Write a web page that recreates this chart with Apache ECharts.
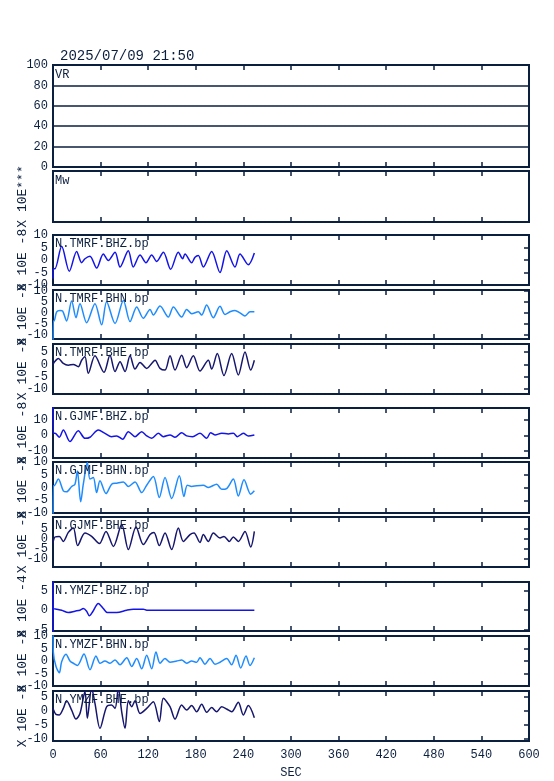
<!DOCTYPE html>
<html><head><meta charset="utf-8">
<script src="https://cdn.jsdelivr.net/npm/echarts@6/dist/echarts.min.js"></script>
<style>html,body{margin:0;padding:0;background:#fff}#c{width:554px;height:781px}</style>
</head><body><div id="c"></div>
<script>
// ---------- data ----------
const titleText = '2025/07/09 21:50';
const timeMin = 0, timeMax = 600, timeStep = 60;
const vrTicks = [0, 20, 40, 60, 80, 100];
const traceNames = ['N.TMRF.BHZ.bp','N.TMRF.BHN.bp','N.TMRF.BHE.bp','N.GJMF.BHZ.bp','N.GJMF.BHN.bp','N.GJMF.BHE.bp','N.YMZF.BHZ.bp','N.YMZF.BHN.bp','N.YMZF.BHE.bp'];
const traceExponents = ['X 10E -8','X 10E -8','X 10E -8','X 10E -8','X 10E -8','X 10E -8','X 10E -4','X 10E -8','X 10E -8'];
const yMins = [-10, -12, -12, -15, -10, -14, -5.25, -10, -10.8];
const yMaxs = [10, 10.5, 8.3, 18, 10, 11, 7.1, 10, 7];
const yLabelValues = [
  [-10,-5,0,5,10],[-10,-5,0,5,10],[-10,-5,0,5],[-10,0,10],[-10,-5,0,5,10],[-10,-5,0,5],[-5,0,5],[-10,-5,0,5,10],[-10,-5,0,5]
];

const tmrfBHZ = [[0,-7.5],[0.5,-3.5],[2.5,-3.5],[10.9,5.5],[20.6,-4.5],[29.8,3.4],[36.1,-1.1],[40.3,0.5],[46.6,1.5],[55,-3.2],[63.4,2.4],[69.7,-0.2],[78.2,3.1],[84.5,-2.8],[94.9,3.7],[101.2,-2.8],[109.7,2],[117.2,-1.1],[124.4,2],[130.7,-0.6],[139.1,3.1],[148.3,-3.7],[158,3.1],[163.4,0.5],[166.4,2.4],[174.8,-1.1],[179,1.1],[183.2,1.8],[189.5,-2.8],[200,3.4],[210.5,-5],[219,3.7],[229.4,-2.8],[235.7,2.4],[246.2,-1.9],[253.8,2.8]];
const tmrfBHN = [[0,-25],[0.3,-3.7],[1.3,-3.7],[4.6,0.5],[8.8,1.1],[12.2,0.8],[17.2,-3.7],[23.5,5.4],[29,-2.2],[34,4.2],[42.4,-4.5],[52.9,4.2],[61.3,-5.5],[67.6,5.1],[78.2,-4.9],[88.7,5.7],[97.1,-4],[105.5,2.7],[113.9,-2.5],[122.3,1.6],[126.5,-1],[134.9,3.1],[145.4,-1.9],[151.7,2.7],[162.2,-1.9],[168.5,1.6],[174.8,-0.4],[183.2,0.5],[187.4,-1],[193.7,3.6],[202.1,-2.2],[210.5,3],[216.8,-0.7],[223.1,0.5],[229.4,1.1],[235.7,0],[242,-1.4],[248.3,0.5],[253.8,0.5]];
const tmrfBHE = [[0,0],[1.3,0.8],[6.7,2.4],[13,0.4],[19.3,-0.3],[25.6,0],[31.9,-0.9],[36.1,1.7],[40.3,3.1],[44.5,-3.6],[52.9,3.5],[64.3,-3.2],[71.8,3.7],[78.2,-2.9],[84.5,1.1],[90.8,-2.9],[97.1,3.5],[103.4,-1.9],[109.7,0.8],[118.1,-1.6],[124.4,0.4],[128.6,1.7],[134.9,-1.6],[141.2,-2.3],[147.5,3.5],[153.8,-2.3],[162.2,3.7],[168.5,-1.3],[176.9,3.5],[185.3,-2.7],[195.8,1.7],[200,-1.9],[207.1,4.4],[215.5,-4.5],[225.2,4.4],[233.6,-4.3],[242,5.1],[249.2,-2.3],[253.8,1.7]];
const gjmfBHZ = [[0,25],[0.3,1.3],[2.5,1.3],[8,-1.3],[13,3.5],[21.4,-4.1],[31.9,3],[40.3,-2],[46.6,-1.3],[57.1,3.5],[65.5,1.3],[73.9,-0.9],[80.3,-0.4],[87.8,-2.6],[95,2.4],[103.4,-0.9],[111.8,2.4],[118.1,-0.4],[124.4,-2],[132.8,1.3],[139.1,-0.9],[147.5,0.2],[153.8,-1.3],[162.2,1.7],[168.5,-0.4],[176,-0.9],[185.3,1.3],[193.7,-2],[198.7,1.7],[204.2,0.2],[212.6,1.3],[221,0.9],[227.3,1.3],[232.4,-0.9],[239.9,1.3],[246.2,-0.4],[253.8,0.2]];
const gjmfBHN = [[0,-25],[0.3,0.7],[1.3,0.7],[6.7,3.3],[13,-1.3],[17.2,-1.7],[23.5,0.4],[27.7,1.3],[30.7,6.5],[34.9,-5.6],[38.2,1.3],[43.3,9.8],[46.6,3.3],[50.8,3.9],[55,-2],[59.2,2.6],[66.8,-2.4],[73.9,1.3],[80.3,1.7],[88.7,2.2],[95,0.4],[103.4,2.2],[111.8,-2],[118.1,0.9],[126.5,4.3],[134,-3.9],[141.2,3.9],[149.6,-4.3],[159.2,4.6],[165.1,-3.5],[169.3,0.9],[174.8,0.4],[181.1,0.7],[189.5,0.9],[195.8,0],[206.3,1.3],[212.6,-0.7],[218.9,-0.4],[227.3,3.3],[233.6,-3.3],[240.8,3],[249.2,-2.6],[253.8,-1.3]];
const gjmfBHE = [[0,-2],[2.5,1],[8,1.3],[13,-1.2],[19.3,3.3],[25.6,5.5],[31.1,-3.3],[40.3,3],[48.7,1.3],[58.4,-2.3],[66.8,3.8],[76.1,-3.7],[86.6,7.2],[95,-5.3],[104.6,6],[113.9,-2.8],[122.3,2.2],[127.3,3.3],[134,-3.3],[141.2,3],[149.6,-5.3],[158,5.5],[164.3,-1.2],[172.7,2.2],[177.7,3],[185.3,-1.7],[189.5,2.2],[195.8,-1.2],[202.1,3],[210.5,0.5],[215.5,1.3],[222.3,-1.2],[227.3,1],[233.6,-1.2],[242,3.8],[249.2,-4],[253.8,3.8]];
const ymzfBHZ = [[0,-10],[0,10],[0.4,0.4],[4.6,0.25],[10.9,0],[19.3,-0.6],[27.7,-0.25],[34,0],[38.2,0.4],[42.4,-0.25],[45.8,-1.4],[50,-0.4],[57.1,1.7],[63.4,0.4],[68.5,-0.6],[80.3,-0.6],[92.9,0],[101.3,0.25],[113.9,0.25],[118.1,0],[253.8,0]];
const ymzfBHN = [[0,15],[0.4,3.6],[3.8,-2.2],[8,-4.7],[10.9,-0.3],[16.4,2.7],[21.4,0],[25.6,-0.9],[30.7,-1.8],[39.1,2.8],[46.6,-3.5],[54.2,2],[59.2,-0.9],[65.5,0],[71.8,-0.9],[78.2,0.4],[84.5,-1.5],[92.9,1.3],[99.2,-2.2],[105.5,1],[111.8,-3.1],[118.1,2.3],[124.4,-3.1],[129.8,3.6],[134.9,-0.9],[141.2,1],[147.5,-0.5],[155.9,0],[162.2,0.4],[168.5,-0.9],[174.8,0],[181.1,-0.5],[185.3,1.3],[191.6,-1.3],[197.9,1],[204.2,-1.3],[210.5,-0.5],[218.9,1],[225.2,-1.5],[230.7,2.3],[236.6,-2.8],[243.3,2],[248.3,-1.8],[253.8,1.3]];
const ymzfBHE = [[0,0.8],[3.8,-1.3],[8,-1.5],[13,0.8],[17.2,3.5],[23.5,0.2],[29,-3],[34,-1],[40.3,6.8],[43.3,-2.7],[48.7,8],[52.9,2.6],[59.2,-6.3],[67.6,1.4],[73.9,2],[78.2,0.8],[82.4,8],[86.6,-0.4],[90.8,-6.3],[95,3.5],[99.2,1.4],[103.4,3.5],[109.7,-1],[118.1,0.8],[126.5,3.2],[134,-3.9],[139.1,4.4],[147.5,1.4],[153.8,-3],[162.2,2],[168.5,0.2],[174.8,1.8],[181.1,-0.4],[187.4,2.3],[193.7,-0.6],[200,1.1],[206.3,-0.4],[212.6,1.4],[218.9,0.6],[225.2,-0.4],[233.6,3],[239.9,-1.5],[246.2,1.8],[253.8,-2.5]];
const traces = [tmrfBHZ, tmrfBHN, tmrfBHE, gjmfBHZ, gjmfBHN, gjmfBHE, ymzfBHZ, ymzfBHN, ymzfBHE];

// ---------- layout & style ----------
const INK = '#0b1f3f';
const FONT = 'Liberation Mono';
const COLORS = { Z: '#1414e8', N: '#1e8cff', E: '#16166e' };
const panelTops = [65, 171, 235, 290, 344, 408, 462, 517, 582, 636, 691];
const panelHeights = [102, 51, 50, 49, 50, 50, 51, 50, 49, 50, 50];
const LEFT = 53, RIGHT = 554 - 529;

const grids = [], xAxes = [], yAxes = [], series = [], graphics = [];
const lastIdx = panelTops.length - 1;

panelTops.forEach((top, i) => {
  grids.push({ left: LEFT, right: RIGHT, top: top, height: panelHeights[i], show: true,
    borderColor: INK, borderWidth: 2, backgroundColor: 'transparent', containLabel: false, outerBoundsMode: 'none' });
  const isLast = i === lastIdx;
  const tickStyle = { show: true, inside: true, length: 5, lineStyle: { color: INK, width: 1.5 } };
  xAxes.push({ gridIndex: i, type: 'value', min: timeMin, max: timeMax, interval: timeStep, position: 'bottom',
    axisLine: { show: false, onZero: false }, axisTick: tickStyle, splitLine: { show: false },
    axisLabel: { show: isLast, color: INK, fontFamily: FONT, fontSize: 12, margin: 8, hideOverlap: false },
    name: isLast ? 'SEC' : '', nameLocation: 'middle', nameGap: 26, nameMoveOverlap: false,
    nameTextStyle: { color: INK, fontFamily: FONT, fontSize: 12 } });
  xAxes.push({ gridIndex: i, type: 'value', min: timeMin, max: timeMax, interval: timeStep, position: 'top',
    axisLine: { show: false, onZero: false }, axisTick: tickStyle, splitLine: { show: false }, axisLabel: { show: false } });

  if (i === 0) {
    yAxes.push({ gridIndex: i, type: 'value', min: vrTicks[0], max: vrTicks[vrTicks.length - 1], interval: 20, position: 'left',
      axisLine: { show: false, onZero: false }, axisTick: { show: false },
      splitLine: { show: true, lineStyle: { color: INK, width: 1.5 } },
      axisLabel: { color: INK, fontFamily: FONT, fontSize: 12, margin: 5, hideOverlap: false } });
    yAxes.push({ gridIndex: i, type: 'value', min: 0, max: 100, position: 'right', show: false, axisLine: { onZero: false } });
    graphics.push({ type: 'text', left: 55, top: top + 4, style: { text: 'VR', fill: INK, font: '12px ' + FONT } });
  } else if (i === 1) {
    yAxes.push({ gridIndex: i, type: 'value', min: 0, max: 1, position: 'left',
      axisLine: { show: false, onZero: false }, axisTick: { show: false }, splitLine: { show: false }, axisLabel: { show: false },
      name: 'X 10E***', nameLocation: 'middle', nameGap: 24, nameRotate: 90, nameMoveOverlap: false,
      nameTextStyle: { color: INK, fontFamily: FONT, fontSize: 13 } });
    yAxes.push({ gridIndex: i, type: 'value', min: 0, max: 1, position: 'right', show: false, axisLine: { onZero: false } });
    graphics.push({ type: 'text', left: 55, top: top + 4, style: { text: 'Mw', fill: INK, font: '12px ' + FONT } });
  } else {
    const k = i - 2;
    const vals = yLabelValues[k];
    yAxes.push({ gridIndex: i, type: 'value', min: yMins[k], max: yMaxs[k], position: 'left',
      axisLine: { show: false, onZero: false }, axisTick: { show: false }, splitLine: { show: false },
      axisLabel: { show: false },
      name: traceExponents[k], nameLocation: 'middle', nameGap: 24, nameRotate: 90, nameMoveOverlap: false,
      nameTextStyle: { color: INK, fontFamily: FONT, fontSize: 13 } });
    yAxes.push({ gridIndex: i, type: 'value', min: yMins[k], max: yMaxs[k], position: 'right',
      axisLine: { show: false, onZero: false }, splitLine: { show: false }, axisLabel: { show: false },
      axisTick: { show: true, inside: true, length: 5, customValues: vals, lineStyle: { color: INK, width: 1.5 } } });
    const comp = traceNames[k].split('.')[2].slice(-1);
    series.push({ type: 'line', xAxisIndex: 2 * i, yAxisIndex: 2 * i, data: traces[k],
      showSymbol: false, smooth: 0.3, clip: true, animation: false,
      lineStyle: { color: COLORS[comp], width: 1.5 }, itemStyle: { color: COLORS[comp] } });
    graphics.push({ type: 'text', left: 55, top: top + 3, z: 100, style: { text: traceNames[k], fill: INK, font: '12px ' + FONT } });
  }
});

const chart = echarts.init(document.getElementById('c'), null, { renderer: 'canvas' });
chart.setOption({
  animation: false,
  backgroundColor: '#fff',
  title: { text: titleText, left: 60, top: 49, padding: 0,
    textStyle: { color: INK, fontFamily: FONT, fontSize: 14, fontWeight: 'normal' } },
  grid: grids, xAxis: xAxes, yAxis: yAxes, series: series, graphic: graphics
});

// y tick labels of the trace panels, placed through the axes' own scales
const labelGraphics = graphics.slice();
yLabelValues.forEach((vals, k) => {
  const axisIdx = 2 * (k + 2);
  vals.forEach(v => {
    const py = chart.convertToPixel({ yAxisIndex: axisIdx }, v);
    labelGraphics.push({ type: 'text', x: LEFT - 5, y: py, z: 50,
      style: { text: String(v), fill: INK, font: '12px ' + FONT, align: 'right', verticalAlign: 'middle' } });
  });
});
chart.setOption({ graphic: labelGraphics }, { replaceMerge: ['graphic'] });
</script></body></html>
